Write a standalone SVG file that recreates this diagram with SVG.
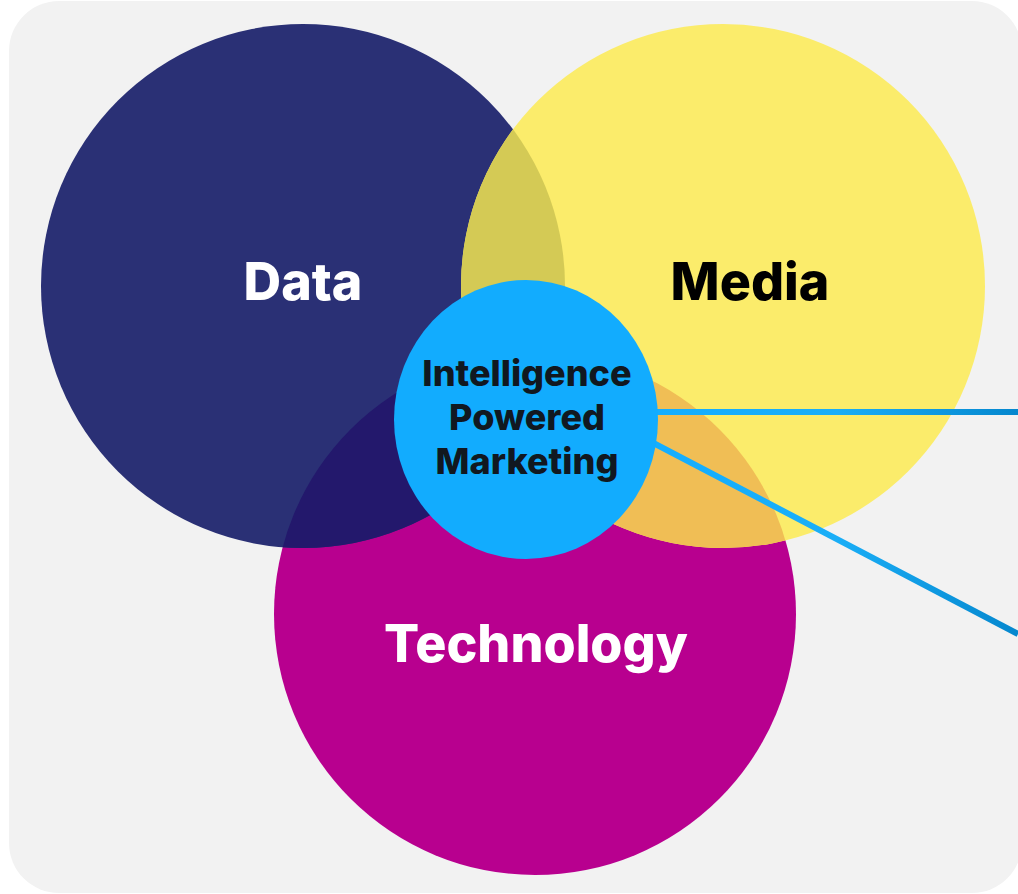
<svg xmlns="http://www.w3.org/2000/svg" width="1018" height="894" viewBox="0 0 1018 894">
<style>
.lbl{font-family:Inter,"Noto Sans","Liberation Sans",sans-serif;font-weight:800;text-anchor:middle}
.big{font-size:52px}
.mid{font-size:36px;fill:#111820}
.conn{fill:none;stroke-width:6;stroke-linecap:butt}
</style>
<defs>
<clipPath id="cData"><circle cx="303" cy="286" r="262"/></clipPath>
<clipPath id="cMedia"><circle cx="723" cy="286" r="262"/></clipPath>
<linearGradient id="gH" gradientUnits="userSpaceOnUse" x1="655" y1="0" x2="1018" y2="0">
<stop offset="0" stop-color="#14AEFF"/><stop offset="0.5" stop-color="#1AAEF7"/><stop offset="1" stop-color="#0587CE"/>
</linearGradient>
</defs>
<rect x="9" y="1" width="1013" height="892" rx="50" fill="#F2F2F2"/>
<g id="technology">
<circle cx="535" cy="614" r="261" fill="#B8008F"/>
</g>
<g id="data">
<circle cx="303" cy="286" r="262" fill="#2A3075"/>
</g>
<g id="media">
<circle cx="723" cy="286" r="262" fill="#FBEC6B"/>
</g>
<g id="overlaps">
<circle cx="723" cy="286" r="262" fill="#D4CA55" clip-path="url(#cData)"/>
<circle cx="535" cy="614" r="261" fill="#23186C" clip-path="url(#cData)"/>
<circle cx="535" cy="614" r="261" fill="#F0BE55" clip-path="url(#cMedia)"/>
</g>
<g id="connectors">
<line class="conn" x1="640" y1="412" x2="1018" y2="412" stroke="url(#gH)"/>
<line class="conn" x1="640" y1="436" x2="1018" y2="634" stroke="url(#gH)"/>
</g>
<g id="center">
<ellipse cx="526" cy="419.5" rx="132" ry="139.5" fill="#12ACFE"/>
<text class="lbl mid" x="527" y="386">Intelligence</text>
<text class="lbl mid" x="527" y="430">Powered</text>
<text class="lbl mid" x="527" y="474">Marketing</text>
</g>
<g id="labels">
<text class="lbl big" x="303" y="300" fill="#FFFFFF">Data</text>
<text class="lbl big" x="750" y="300" fill="#000000">Media</text>
<text class="lbl big" x="536" y="662" fill="#FFFFFF">Technology</text>
</g>
</svg>
